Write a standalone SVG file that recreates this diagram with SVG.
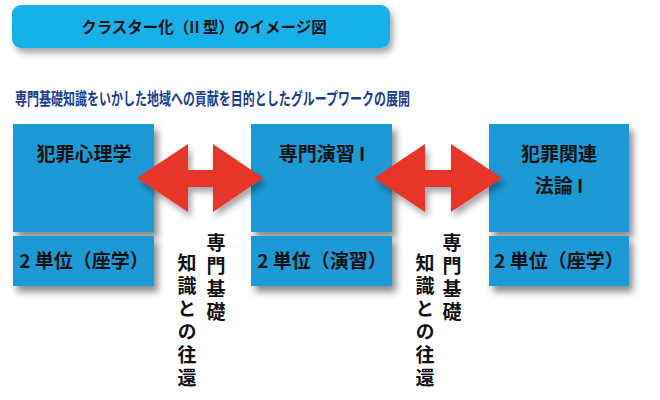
<svg xmlns="http://www.w3.org/2000/svg" width="660" height="400" viewBox="0 0 660 400">
<defs>
<filter id="sh" x="-20%" y="-20%" width="150%" height="160%">
<feDropShadow dx="4" dy="6" stdDeviation="3.5" flood-color="#000" flood-opacity="0.45"/>
</filter>
<filter id="sh2" x="-20%" y="-20%" width="150%" height="160%">
<feDropShadow dx="3" dy="5" stdDeviation="3" flood-color="#000" flood-opacity="0.35"/>
</filter>
<style>
.box{fill:#1a9ad6;}
.t{font-family:"Noto Sans CJK JP","Noto Sans",sans-serif;font-weight:bold;fill:#111;text-anchor:middle;}
.bt{font-size:19px;}
.v{font-family:"Noto Sans CJK JP","Noto Sans",sans-serif;font-weight:bold;fill:#111;font-size:19px;writing-mode:vertical-rl;text-orientation:upright;letter-spacing:4px;}
.arrow{fill:#e8352b;}
</style>
</defs>
<g id="title">
<rect x="12" y="5" width="378" height="43" rx="9" fill="#17b1e9" filter="url(#sh2)"/>
<text class="t" x="204" y="33" font-size="15.5">クラスター化（II 型）のイメージ図</text>
</g>
<g id="subtitle">
<text x="15" y="105" font-family="'Noto Sans CJK JP','Noto Sans',sans-serif" font-weight="bold" font-size="17" fill="#1c3f94" textLength="395" lengthAdjust="spacingAndGlyphs">専門基礎知識をいかした地域への貢献を目的としたグループワークの展開</text>
</g>
<g id="node1">
<g filter="url(#sh)">
<rect class="box" x="13" y="124" width="141" height="108"/>
<rect class="box" x="13" y="236" width="141" height="50"/>
</g>
<text class="t bt" x="84" y="161" font-size="20">犯罪心理学</text>
<text class="t bt" x="84" y="268">2 単位（座学）</text>
</g>
<g id="node2">
<g filter="url(#sh)">
<rect class="box" x="251" y="124" width="141" height="108"/>
<rect class="box" x="251" y="236" width="141" height="50"/>
</g>
<text class="t bt" x="322" y="161" font-size="20">専門演習 I</text>
<text class="t bt" x="322" y="268">2 単位（演習）</text>
</g>
<g id="node3">
<g filter="url(#sh)">
<rect class="box" x="489" y="124" width="140" height="108"/>
<rect class="box" x="489" y="236" width="140" height="50"/>
</g>
<text class="t bt" x="559" y="161" font-size="20">犯罪関連</text>
<text class="t bt" x="559" y="193" font-size="20">法論 I</text>
<text class="t bt" x="559" y="268">2 単位（座学）</text>
</g>
<g id="connectors">
<polygon class="arrow" filter="url(#sh2)" points="137,178 188,144 188,170 213,170 213,144 263,178 213,212 213,187 188,187 188,212"/>
<polygon class="arrow" filter="url(#sh2)" points="374,178 425,144 425,170 451,170 451,144 502,178 451,212 451,187 425,187 425,212"/>
</g>
<g id="labels">
<text class="v" x="216" y="233">専門基礎</text>
<text class="v" x="187" y="253">知識との往還</text>
<text class="v" x="452" y="233">専門基礎</text>
<text class="v" x="425" y="253">知識との往還</text>
</g>
</svg>
